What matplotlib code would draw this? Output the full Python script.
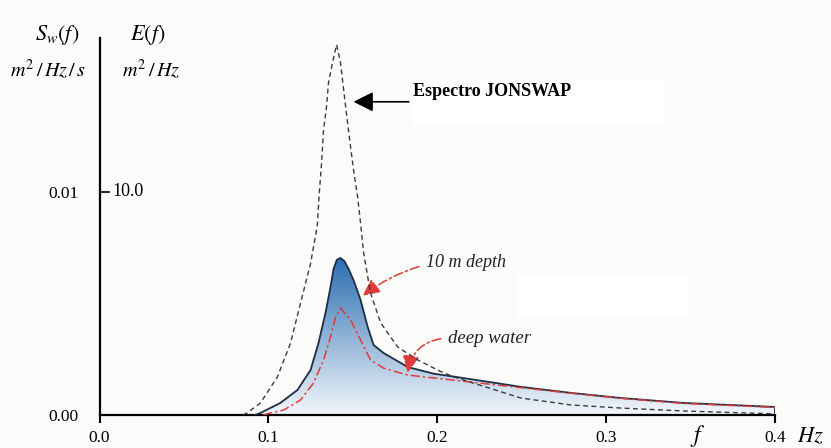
import numpy as np
import matplotlib
matplotlib.use("Agg")
import matplotlib.pyplot as plt
from matplotlib.colors import LinearSegmentedColormap
from matplotlib.patches import Rectangle

plt.rcParams["font.family"] = ["Liberation Serif", "DejaVu Serif"]
plt.rcParams["mathtext.fontset"] = "stix"

# Spectra (f in Hz, E in m^2/Hz)
f_jonswap = [0.085, 0.0875, 0.0953, 0.1053, 0.113, 0.119, 0.125, 0.129, 0.130,
             0.1315, 0.1327, 0.1344, 0.1356, 0.138, 0.1404, 0.1427, 0.145, 0.1469,
             0.1487, 0.1504, 0.1528, 0.1546, 0.1564, 0.1605, 0.1665, 0.1765, 0.1884,
             0.202, 0.21, 0.2496, 0.2792, 0.309, 0.346, 0.4]
e_jonswap = [0.0, 0.1, 0.54, 1.7, 3.2, 5.0, 6.8, 8.5, 9.8,
             11.3, 12.8, 13.8, 14.9, 15.8, 16.6, 15.8, 14.3, 13.1,
             12.0, 11.0, 9.8, 8.6, 7.26, 5.47, 4.13, 3.05, 2.47,
             1.95, 1.7, 0.76, 0.45, 0.31, 0.18, 0.05]

f_shallow = [0.092, 0.0953, 0.1071, 0.1172, 0.125, 0.1297, 0.1338, 0.1368, 0.1386,
             0.1405, 0.1427, 0.145, 0.1475, 0.1504, 0.1546, 0.1588, 0.1623, 0.1682,
             0.1825, 0.198, 0.21, 0.2496, 0.2792, 0.309, 0.346, 0.4]
e_shallow = [0.0, 0.09, 0.54, 1.12, 2.02, 3.23, 4.57, 5.74, 6.55,
             6.95, 7.04, 6.9, 6.55, 6.05, 5.16, 3.95, 3.14, 2.78,
             2.15, 1.85, 1.72, 1.26, 0.99, 0.76, 0.54, 0.36]

f_deep = [0.097, 0.1012, 0.109, 0.119, 0.1267, 0.1327, 0.1368, 0.1398, 0.1427,
          0.1487, 0.1546, 0.1605, 0.1682, 0.1825, 0.198, 0.25, 0.28, 0.31, 0.346, 0.4]
e_deep = [0.0, 0.09, 0.22, 0.67, 1.43, 2.47, 3.5, 4.39, 4.8,
          4.26, 3.36, 2.47, 2.1, 1.79, 1.66, 1.22, 0.97, 0.74, 0.52, 0.34]

xticks = [0.0, 0.1, 0.2, 0.3, 0.4]
xtick_labels = ["0.0", "0.1", "0.2", "0.3", "0.4"]

W, H = 831, 448
fig = plt.figure(figsize=(W / 100, H / 100), dpi=100, facecolor="#fbfbf9")
ax = fig.add_axes([99.5 / W, 33 / H, (775 - 99.5) / W, (415 - 38) / H])
ax.set_facecolor("none")
ax.set_xlim(0, 0.4)
ax.set_ylim(0, 16.9)

# white boxes behind the labels
for x0, y0, x1, y1 in [(412, 80, 665, 125), (517, 275, 688, 318)]:
    fig.patches.append(Rectangle((x0 / W, 1 - y1 / H), (x1 - x0) / W, (y1 - y0) / H,
                                 transform=fig.transFigure, facecolor="white",
                                 edgecolor="none", zorder=-1))

# 10 m depth spectrum with vertical blue gradient
poly = ax.fill_between(f_shallow, e_shallow, 0, color="none")
cmap = LinearSegmentedColormap.from_list("sea", ["#f3f7fb", "#2a6db0"])
grad = np.linspace(0, 1, 256).reshape(-1, 1)
img = ax.imshow(grad, cmap=cmap, aspect="auto", origin="lower",
                extent=(0, 0.4, 0, max(e_shallow)), zorder=1)
img.set_clip_path(poly.get_paths()[0], transform=ax.transData)
ax.plot(f_shallow, e_shallow, color="#1d2f45", lw=1.3, zorder=3)
ax.plot([f_shallow[-1], f_shallow[-1]], [0, e_shallow[-1]], color="#1d2f45", lw=1.3, zorder=3)

ax.plot(f_deep, e_deep, color="#e03a3a", lw=1.1, ls=(0, (6, 2, 1.5, 2)), zorder=4)
ax.plot(f_jonswap, e_jonswap, color="#3a3a3a", lw=1.0, ls=(0, (3.5, 2.5)), zorder=4)

# axes
for s in ["top", "right"]:
    ax.spines[s].set_visible(False)
ax.spines["left"].set_linewidth(1.6)
ax.spines["bottom"].set_linewidth(1.6)
ax.set_xticks(xticks, xtick_labels)
ax.set_yticks([0, 10], ["0.00", "0.01"])
ax.tick_params(axis="x", direction="out", length=6, width=1.5, labelsize=12.5, pad=5)
ax.tick_params(axis="y", direction="in", length=7, width=1.2, labelsize=12.5, pad=15)
ax.annotate("10.0", xy=(0, 10), xytext=(9, 0), textcoords="offset points",
            va="center", ha="left", fontsize=13)

fig.text(57 / W, 1 - 35 / H, r"$S_w(f)$", fontsize=16, ha="center", va="center")
fig.text(48 / W, 1 - 70 / H, r"$m^2\,/\,Hz\,/\,s$", fontsize=14.5, ha="center", va="center")
fig.text(148 / W, 1 - 35 / H, r"$E(f)$", fontsize=16, ha="center", va="center")
fig.text(151 / W, 1 - 70 / H, r"$m^2\,/\,Hz$", fontsize=14.5, ha="center", va="center")
fig.text(698 / W, 1 - 436 / H, r"$f$", fontsize=17, ha="center", va="center")
fig.text(810 / W, 1 - 437 / H, r"$Hz$", fontsize=16, ha="center", va="center")

# annotations
ax.text(0.1854, 14.48, "Espectro JONSWAP", fontsize=13, fontweight="bold",
        va="center", ha="left")
ax.annotate("", xy=(0.1504, 14.04), xytext=(0.1831, 14.04),
            arrowprops=dict(arrowstyle="-|>,head_length=1.0,head_width=0.5",
                            color="black", lw=1.2, shrinkA=0, shrinkB=0,
                            mutation_scale=12))
ax.annotate("10 m depth", xy=(0.1558, 5.34), xytext=(0.1932, 6.82),
            fontsize=13, style="italic", va="center", ha="left", color="#222",
            arrowprops=dict(arrowstyle="-|>,head_length=0.8,head_width=0.38",
                            color="#e03a3a", lw=1.1, ls=(0, (6, 2, 1.5, 2)),
                            connectionstyle="arc3,rad=0.1", shrinkA=3, shrinkB=0,
                            relpos=(0, 0.4)))
ax.annotate("deep water", xy=(0.1825, 1.88), xytext=(0.2062, 3.45),
            fontsize=13.5, style="italic", va="center", ha="left", color="#222",
            arrowprops=dict(arrowstyle="-|>,head_length=0.8,head_width=0.38",
                            color="#e03a3a", lw=1.1, ls=(0, (6, 2, 1.5, 2)),
                            connectionstyle="arc3,rad=0.4", shrinkA=3, shrinkB=0,
                            relpos=(0, 0.5)))

fig.savefig("out.png", dpi=100, facecolor=fig.get_facecolor())
